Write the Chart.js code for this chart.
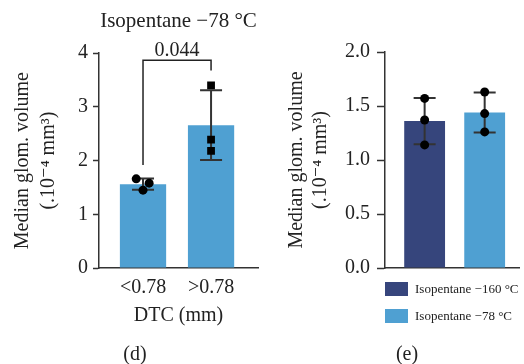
<!DOCTYPE html>
<html>
<head>
<meta charset="utf-8">
<script src="https://cdn.jsdelivr.net/npm/chart.js@4"></script>
<style>
  body { margin: 0; background: #fff; width: 524px; height: 364px; position: relative; overflow: hidden;
         font-family: "Liberation Serif", "DejaVu Serif", serif; color: #222; }
  #wrap1 { position: absolute; left: 0; top: 0; }
  #wrap2 { position: absolute; left: 270px; top: 0; }
  .panel { position: absolute; top: 342px; font-size: 20px; width: 40px; text-align: center; }
  #legend { position: absolute; left: 385px; top: 282px; font-size: 13px; }
  #legend div { height: 27px; display: flex; align-items: flex-start; }
  #legend span.box { display: inline-block; width: 23px; height: 14px; margin-right: 7px; }
  #legend span.txt { line-height: 14px; }
</style>
</head>
<body>
<div id="wrap1"><canvas id="chart1" width="270" height="364"></canvas></div>
<div id="wrap2"><canvas id="chart2" width="254" height="364"></canvas></div>
<div class="panel" style="left:115px">(d)</div>
<div class="panel" style="left:387px">(e)</div>
<div id="legend"></div>
<script>
// panel (d): DTC groups
let dtcLabels = ['<0.78', '>0.78'];
let dtcMeans = [1.56, 2.66];
let dtcSd = [0.105, 0.65];
let dtcPoints = [[1.66, 1.58, 1.45], [3.40, 2.39, 2.18]];
let dtcJitter = [[-0.1, 0.09, 0], [0, 0, 0]];
let dtcMarkers = ['circle', 'rect'];
let pText = '0.044';
let bracketY = [1.92, 3.87, 3.68];

// panel (e): freezing temperature
let tempLabels = ['Isopentane −160 °C', 'Isopentane −78 °C'];
let tempMeans = [1.36, 1.44];
let tempSd = [0.215, 0.185];
let tempPoints = [[1.57, 1.37, 1.14], [1.63, 1.43, 1.26]];

let lightBlue = '#4fa0d2';
let navy = '#36457c';
let axisColor = '#333';

Chart.defaults.font.family = '"Liberation Serif", "DejaVu Serif", serif';
Chart.defaults.color = '#222';

const errorBars = {
  id: 'errorBars',
  afterDatasetDraw(chart, args, opts) {
    if (args.index !== 0) return;
    let ctx = chart.ctx;
    let x = chart.scales.x, y = chart.scales.y;
    ctx.save();
    ctx.strokeStyle = axisColor;
    ctx.lineWidth = 2;
    opts.means.forEach((m, i) => {
      let px = x.getPixelForValue(i);
      let top = y.getPixelForValue(m + opts.sd[i]);
      let bot = y.getPixelForValue(m - opts.sd[i]);
      ctx.beginPath();
      ctx.moveTo(px, top); ctx.lineTo(px, bot);
      ctx.moveTo(px - 11, top); ctx.lineTo(px + 11, top);
      ctx.moveTo(px - 11, bot); ctx.lineTo(px + 11, bot);
      ctx.stroke();
    });
    ctx.restore();
  }
};

const bracket = {
  id: 'bracket',
  afterDraw(chart, args, opts) {
    let ctx = chart.ctx;
    let x = chart.scales.x, y = chart.scales.y;
    let x0 = x.getPixelForValue(0), x1 = x.getPixelForValue(1);
    let yl = y.getPixelForValue(bracketY[0]);
    let yt = y.getPixelForValue(bracketY[1]);
    let yr = y.getPixelForValue(bracketY[2]);
    ctx.save();
    ctx.strokeStyle = '#222';
    ctx.lineWidth = 1.5;
    ctx.beginPath();
    ctx.moveTo(x0, yl); ctx.lineTo(x0, yt); ctx.lineTo(x1, yt); ctx.lineTo(x1, yr);
    ctx.stroke();
    ctx.font = '20px "Liberation Serif", serif';
    ctx.fillStyle = '#222';
    ctx.textAlign = 'center';
    ctx.textBaseline = 'alphabetic';
    ctx.fillText(pText, (x0 + x1) / 2, yt - 4);
    ctx.restore();
  }
};

function twoTicks(scale) {
  scale.ticks = [{value: 0}, {value: 1}];
}

let pts1 = [], styles1 = [];
dtcPoints.forEach((grp, i) => grp.forEach((v, j) => {
  pts1.push({x: i + dtcJitter[i][j], y: v});
  styles1.push(dtcMarkers[i]);
}));

let pts2 = [];
tempPoints.forEach((grp, i) => grp.forEach(v => pts2.push({x: i, y: v})));

let yTitle = ['Median glom. volume', '(.10⁻⁴ mm³)'];

let chart1 = new Chart(document.getElementById('chart1'), {
  data: {
    datasets: [{
      type: 'bar',
      data: dtcMeans.map((m, i) => ({x: i, y: m})),
      backgroundColor: lightBlue,
      categoryPercentage: 1,
      barPercentage: 0.68,
      order: 1
    }, {
      type: 'scatter',
      data: pts1,
      pointStyle: styles1,
      pointRadius: styles1.map(s => s === 'rect' ? 5.5 : 4.5),
      backgroundColor: '#000',
      borderColor: '#000',
      borderWidth: 0,
      order: 0
    }]
  },
  options: {
    responsive: false,
    animation: false,
    layout: { padding: { left: 10, right: 12, top: 0, bottom: 36 } },
    plugins: {
      legend: { display: false },
      tooltip: { enabled: false },
      title: {
        display: true,
        text: 'Isopentane −78 °C',
        fullSize: false,
        font: { size: 21, weight: 'normal', lineHeight: 1.2 },
        color: '#222',
        padding: { top: 9, bottom: 19 }
      },
      errorBars: { means: dtcMeans, sd: dtcSd }
    },
    scales: {
      x: {
        type: 'linear',
        offset: false,
        min: -0.647,
        max: 1.69,
        afterBuildTicks: twoTicks,
        afterFit: s => { s.height = 60; },
        grid: { offset: false, drawOnChartArea: false, drawTicks: false },
        border: { color: axisColor, width: 1.5 },
        ticks: {
          padding: 8,
          font: { size: 20 },
          color: '#222',
          callback: v => dtcLabels[v]
        },
        title: {
          display: true,
          text: 'DTC (mm)',
          font: { size: 20, lineHeight: 1.2 },
          color: '#222',
          padding: { top: 0, bottom: 0 }
        }
      },
      y: {
        min: 0,
        max: 4,
        afterFit: s => { s.width = 89; },
        ticks: { stepSize: 1, padding: 5, font: { size: 20 }, color: '#222' },
        grid: { drawOnChartArea: false, tickLength: 6, tickColor: axisColor, tickWidth: 1.5 },
        border: { color: axisColor, width: 1.5 },
        title: {
          display: true,
          text: yTitle,
          font: { size: 20, lineHeight: 1.3 },
          color: '#222',
          padding: { top: 0, bottom: 0 }
        }
      }
    }
  },
  plugins: [errorBars, bracket]
});

let chart2 = new Chart(document.getElementById('chart2'), {
  data: {
    datasets: [{
      type: 'bar',
      data: tempMeans.map((m, i) => ({x: i, y: m})),
      backgroundColor: [navy, lightBlue],
      categoryPercentage: 1,
      barPercentage: 0.68,
      order: 1
    }, {
      type: 'scatter',
      data: pts2,
      pointStyle: 'circle',
      pointRadius: 4.5,
      backgroundColor: '#000',
      borderColor: '#000',
      borderWidth: 0,
      order: 0
    }]
  },
  options: {
    responsive: false,
    animation: false,
    layout: { padding: { left: 15, right: 0, top: 52, bottom: 96 } },
    plugins: {
      legend: { display: false },
      tooltip: { enabled: false },
      errorBars: { means: tempMeans, sd: tempSd }
    },
    scales: {
      x: {
        type: 'linear',
        offset: false,
        min: -0.66,
        max: 1.58,
        afterBuildTicks: twoTicks,
        afterFit: s => { s.height = 0; },
        grid: { offset: false, drawOnChartArea: false, drawTicks: false },
        border: { color: axisColor, width: 1.5 },
        ticks: { display: false }
      },
      y: {
        min: 0,
        max: 2,
        afterFit: s => { s.width = 100; },
        ticks: {
          stepSize: 0.5, padding: 7, font: { size: 20 }, color: '#222',
          callback: v => v.toFixed(1)
        },
        grid: { drawOnChartArea: false, tickLength: 8, tickColor: axisColor, tickWidth: 1.5 },
        border: { color: axisColor, width: 1.5 },
        title: {
          display: true,
          text: yTitle,
          font: { size: 20, lineHeight: 1.2 },
          color: '#222',
          padding: { top: 0, bottom: 0 }
        }
      }
    }
  },
  plugins: [errorBars]
});

let legendColors = [navy, lightBlue];
let legend = document.getElementById('legend');
tempLabels.forEach((lab, i) => {
  let row = document.createElement('div');
  row.innerHTML = '<span class="box" style="background:' + legendColors[i] + '"></span><span class="txt">' + lab + '</span>';
  legend.appendChild(row);
});
</script>
</body>
</html>
